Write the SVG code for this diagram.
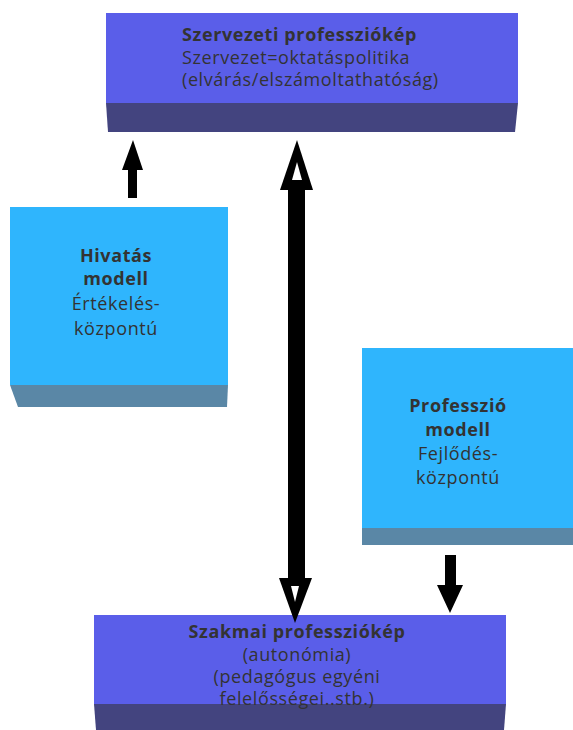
<svg xmlns="http://www.w3.org/2000/svg" width="573" height="730" viewBox="0 0 573 730">
<style>
.t{font-family:"Open Sans","Noto Sans","DejaVu Sans",sans-serif;font-size:18px;letter-spacing:0.6px;fill:#333333}
.b{font-weight:bold}
.purple{fill:#5a5ee9}
.purpleDark{fill:#43447f}
.cyan{fill:#2fb5fd}
.cyanDark{fill:#5a87a6}
.ar{fill:#000000}
</style>
<rect width="573" height="730" fill="#ffffff"/>
<g id="szervezeti">
<polygon class="purpleDark" points="106,103 518,103 515,132 108,132"/>
<rect class="purple" x="106" y="13" width="412" height="90"/>
<text class="t b" x="182" y="41">Szervezeti professziókép</text>
<text class="t" x="182" y="64">Szervezet=oktatáspolitika</text>
<text class="t" x="182" y="86">(elvárás/elszámoltathatóság)</text>
</g>
<g id="hivatas">
<polygon class="cyanDark" points="10,385 228,385 227,407 18,407"/>
<rect class="cyan" x="10" y="207" width="218" height="178"/>
<text class="t" text-anchor="middle" x="116"><tspan class="b" x="116" y="262">Hivatás</tspan><tspan class="b" x="116" y="285">modell</tspan><tspan x="116" y="310">Értékelés-</tspan><tspan x="116" y="335">központú</tspan></text>
</g>
<g id="professzio">
<polygon class="cyanDark" points="362,528 573,528 573,545 362,545"/>
<rect class="cyan" x="362" y="348" width="211" height="180"/>
<text class="t" text-anchor="middle" x="458"><tspan class="b" x="458" y="412">Professzió</tspan><tspan class="b" x="458" y="436">modell</tspan><tspan x="458" y="460">Fejlődés-</tspan><tspan x="458" y="484">központú</tspan></text>
</g>
<g id="szakmai">
<polygon class="purpleDark" points="94,704 506,704 504,730 96,730"/>
<rect class="purple" x="94" y="615" width="412" height="89"/>
<text class="t" text-anchor="middle" x="297"><tspan class="b" x="297" y="638">Szakmai professziókép</tspan><tspan x="297" y="661">(autonómia)</tspan><tspan x="297" y="683">(pedagógus egyéni</tspan><tspan x="297" y="705">felelősségei..stb.)</tspan></text>
</g>
<g id="connectors">
<polygon class="ar" points="128,198 137,198 137,170 143,170 133,140 122,170 128,170"/>
<polygon class="ar" points="445,555 456,555 456,585 463,585 450,613 437,585 445,585"/>
<rect class="ar" x="288" y="188" width="17" height="392"/>
<polygon class="ar" points="297,140 313,190 280,190"/>
<polygon fill="#ffffff" points="297,162 302,180 292,180"/>
<polygon class="ar" points="295,623 312,578 279,578"/>
<polygon fill="#ffffff" points="295,602 299,586 291,586"/>
</g>
</svg>
